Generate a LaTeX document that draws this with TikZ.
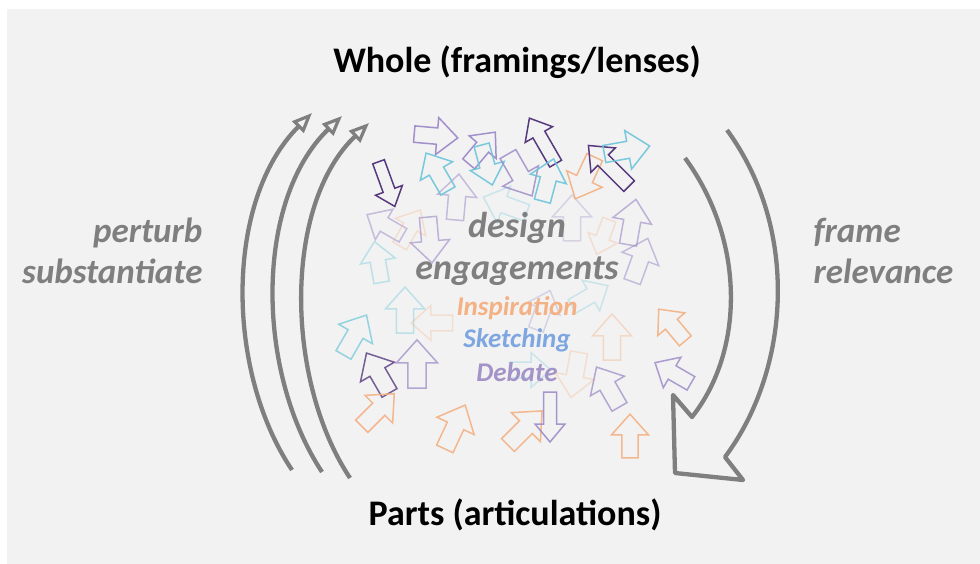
\documentclass[tikz,border=0pt]{standalone}
\usepackage{fontspec}
\setmainfont{Carlito}
\usetikzlibrary{arrows.meta}
\definecolor{bgc}{HTML}{F2F2F2}
\definecolor{grayc}{HTML}{7F7F7F}
\definecolor{dpurp}{HTML}{573A7E}
\definecolor{purp}{HTML}{9A86C6}
\definecolor{cyanc}{HTML}{6CC5DA}
\definecolor{orangec}{HTML}{F4B183}
\definecolor{bluec}{HTML}{7EA6E0}
\definecolor{debc}{HTML}{A393C8}
\tikzset{
  smallarrow/.style={line width=1.5pt, line join=miter, fill=none},
  bigcurve/.style={draw=grayc, line width=4.3pt},
  headtip/.style={-{Triangle[open, length=20pt, width=16pt, line width=3.2pt, fill=bgc]}},
  titletext/.style={font=\fontsize{36}{42}\selectfont\bfseries, text=black},
  sidetext/.style={font=\fontsize{35}{41}\selectfont\bfseries\itshape, text=grayc, align=right},
  midtext/.style={font=\fontsize{36}{42}\selectfont\bfseries\itshape, text=grayc, align=center},
  subtext/.style={font=\fontsize{27}{30}\selectfont\bfseries\itshape},
}
\newcommand\barw[6]{\draw[smallarrow, draw=#5, draw opacity=#6, shift={(#1,#2)}, rotate=-#3, scale=#4*1.15]
  (-7.5,20) -- (7.5,20) -- (7.5,-1) -- (17,-1) -- (0,-20) -- (-17,-1) -- (-7.5,-1) -- cycle;}
\newcommand\barwlong[6]{\draw[smallarrow, draw=#5, draw opacity=#6, shift={(#1,#2)}, rotate=-#3, scale=#4]
  (-6.5,26) -- (6.5,26) -- (6.5,-6) -- (15,-6) -- (0,-24) -- (-15,-6) -- (-6.5,-6) -- cycle;}
\begin{document}
\begin{tikzpicture}[x=1pt, y=-1pt]
\useasboundingbox (0,0) rectangle (980,564);
\fill[white] (0,0) rectangle (980,564);
\fill[bgc] (7,9) rectangle (980,564);

% small arrows (faint first)
\barw{457}{197}{5}{1.0}{purp}{0.5}
\barw{385}{225}{300}{0.9}{purp}{0.5}
\barw{410}{228}{30}{0.9}{orangec}{0.3}
\barw{430}{240}{175}{1.0}{purp}{0.6}
\barw{378}{262}{350}{0.9}{cyanc}{0.4}
\barw{505}{205}{290}{1.0}{cyanc}{0.3}
\barw{572}{218}{0}{1.0}{purp}{0.3}
\barw{632}{222}{10}{1.0}{purp}{0.6}
\barw{603}{237}{200}{0.8}{orangec}{0.3}
\barw{640}{260}{20}{1.0}{purp}{0.5}
\barw{405}{310}{0}{1.0}{cyanc}{0.4}
\barw{432}{323}{270}{0.9}{orangec}{0.3}
\barw{575}{375}{190}{1.0}{orangec}{0.3}
\barw{612}{337}{0}{1.0}{orangec}{0.4}
\barw{530}{370}{90}{0.9}{cyanc}{0.3}
\barw{590}{296}{60}{0.9}{cyanc}{0.3}
\barw{543}{310}{20}{0.9}{purp}{0.3}
% stronger arrows
\barw{436}{136}{95}{0.95}{purp}{0.9}
\barw{437}{172}{330}{0.95}{cyanc}{0.9}
\barw{482}{148}{40}{0.9}{purp}{0.9}
\barw{487}{165}{165}{0.9}{cyanc}{0.9}
\barw{520}{175}{150}{1.05}{purp}{0.8}
\barwlong{542}{140}{330}{1.05}{dpurp}{1}
\barw{548}{180}{15}{0.95}{cyanc}{0.9}
\barw{585}{178}{205}{1.0}{orangec}{0.9}
\barwlong{608}{165}{315}{1.15}{dpurp}{1}
\barw{627}{150}{80}{1.0}{cyanc}{0.9}
\barwlong{387}{185}{160}{0.95}{dpurp}{1}
\barw{355}{335}{30}{1.0}{cyanc}{0.7}
\barw{417}{364}{0}{1.05}{purp}{0.7}
\barw{378}{373}{330}{1.0}{dpurp}{0.8}
\barw{378}{410}{45}{1.0}{orangec}{0.9}
\barw{455}{427}{25}{1.05}{orangec}{0.9}
\barw{525}{428}{45}{1.05}{orangec}{0.9}
\barwlong{550}{418}{180}{1.0}{purp}{0.85}
\barw{630}{436}{0}{0.95}{orangec}{0.9}
\barw{608}{387}{330}{1.0}{purp}{0.7}
\barw{672}{325}{320}{0.9}{orangec}{0.9}
\barw{673}{373}{300}{0.9}{purp}{0.8}

% left arcs
\coordinate (l1s) at (292,470); \coordinate (l1e) at (312,113);
\coordinate (l2s) at (322,472); \coordinate (l2e) at (342,116);
\coordinate (l3s) at (350,478); \coordinate (l3e) at (369,123);
\draw[bigcurve, headtip] (l1s) .. controls (225,370) and (225,200) .. (l1e);
\draw[bigcurve, headtip] (l2s) .. controls (255,370) and (255,200) .. (l2e);
\draw[bigcurve, headtip] (l3s) .. controls (285,380) and (283,205) .. (l3e);

% right block arrow
\coordinate (ro) at (727,130);
\coordinate (ri) at (685,158);
\draw[bigcurve, line join=round] (ro) .. controls (800,230) and (790,370) .. (725,457)
  -- (743,480) -- (675,473) -- (673,395) -- (692,417)
  .. controls (745,350) and (745,240) .. (ri);

% texts
\node[titletext] (whole) at (517,62) {Whole (framings/lenses)};
\node[titletext] (parts) at (515,515) {Parts (articulations)};
\node[sidetext, anchor=east] (left) at (206,251) {perturb\\substantiate};
\node[sidetext, anchor=west, align=left] (right) at (810,251) {frame\\relevance};
\node[midtext] (design) at (517,249) {design\\engagements};
\node[subtext, text=orangec] (insp) at (517,308) {Inspiration};
\node[subtext, text=bluec] (sketch) at (517,340) {Sketching};
\node[subtext, text=debc] (debate) at (517,372) {Debate};
\end{tikzpicture}
\end{document}
